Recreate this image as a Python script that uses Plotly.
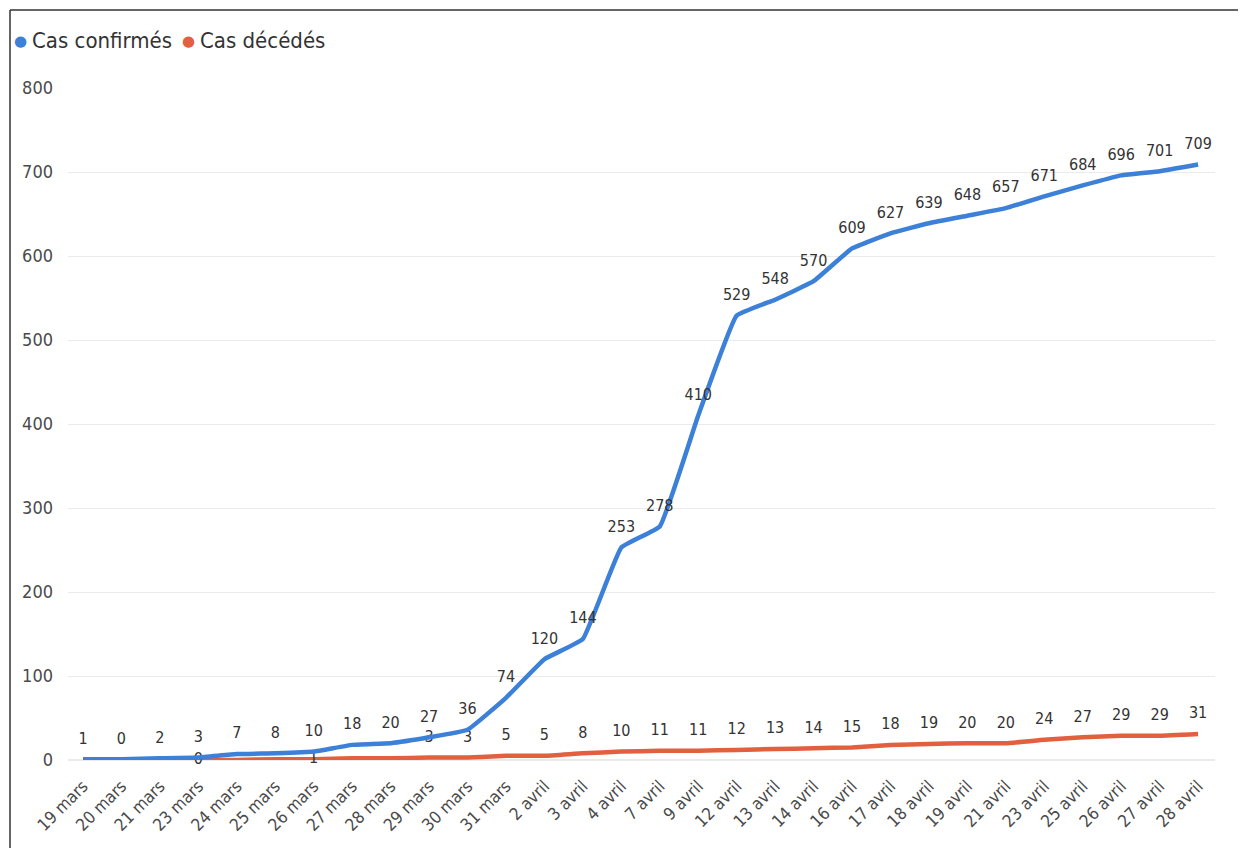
import plotly.graph_objects as go

dates = ["19 mars", "20 mars", "21 mars", "23 mars", "24 mars", "25 mars", "26 mars",
         "27 mars", "28 mars", "29 mars", "30 mars", "31 mars",
         "2 avril", "3 avril", "4 avril", "7 avril", "9 avril", "12 avril", "13 avril",
         "14 avril", "16 avril", "17 avril", "18 avril", "19 avril", "21 avril",
         "23 avril", "25 avril", "26 avril", "27 avril", "28 avril"]

confirmes = [1, 1, 2, 3, 7, 8, 10, 18, 20, 27, 36, 74, 120, 144, 253, 278, 410,
             529, 548, 570, 609, 627, 639, 648, 657, 671, 684, 696, 701, 709]

deces = [0, 0, 0, 0, 0, 1, 1, 2, 2, 3, 3, 5, 5, 8, 10, 11, 11, 12, 13, 14, 15,
         18, 19, 20, 20, 24, 27, 29, 29, 31]

series_names = ["Cas confirmés", "Cas décédés"]

# labels hidden where the source chart suppressed overlapping labels
conf_shown = [True, False] + [True] * 28
dec_shown = [False, True, False, True, False, False, True, False, False] + [True] * 21
dec_pos = ["top center"] * 30
dec_pos[3] = "middle center"
dec_pos[6] = "middle center"

blue = "#3C80D8"
red = "#E2603F"
font_family = "DejaVu Sans Condensed, DejaVu Sans, Liberation Sans Narrow, sans-serif"

conf_text = [str(v) if s else "" for v, s in zip(confirmes, conf_shown)]
dec_text = [str(v) if s else "" for v, s in zip(deces, dec_shown)]

# invisible markers set how far the labels sit above the line
ghost = dict(size=17, color="rgba(0,0,0,0)")

fig = go.Figure()
fig.add_trace(go.Scatter(
    x=dates, y=deces, mode="lines+markers+text", text=dec_text, textposition=dec_pos,
    line=dict(color=red, width=4.5, shape="spline", smoothing=0.3), marker=ghost,
    textfont=dict(family=font_family, size=16, color="#333333"),
    cliponaxis=False, showlegend=False, name=series_names[1]))
fig.add_trace(go.Scatter(
    x=dates, y=confirmes, mode="lines+markers+text", text=conf_text,
    textposition="top center", marker=ghost,
    line=dict(color=blue, width=4.5, shape="spline", smoothing=0.3),
    textfont=dict(family=font_family, size=16, color="#333333"),
    cliponaxis=False, showlegend=False, name=series_names[0]))

# page body has an 8px margin: lay out in target pixels shifted by OFF
OFF = 8
W, H = 1246 - OFF, 848 - OFF
L, R, T, B = 68 - OFF, 1246 - 1215, 88 - OFF, 848 - 760
pw, ph = W - L - R, H - T - B


def px(xp):
    return (xp - OFF - L) / pw


def py(yp):
    return (H - B - (yp - OFF)) / ph


fig.add_shape(type="line", xref="paper", yref="paper", x0=px(10), x1=px(1260),
              y0=py(10), y1=py(10), line=dict(color="#333333", width=1.5))
fig.add_shape(type="line", xref="paper", yref="paper", x0=px(10), x1=px(10),
              y0=py(10), y1=py(860), line=dict(color="#333333", width=1.5))

# legend drawn as dots + labels
legend_items = [(series_names[0], blue, 20, 30), (series_names[1], red, 188, 198)]
for name, col, dot_x, txt_x in legend_items:
    fig.add_annotation(x=px(dot_x), y=py(41), xref="paper", yref="paper",
                       text="●", showarrow=False, xanchor="center", yanchor="middle",
                       font=dict(size=15, color=col, family="DejaVu Sans"))
    fig.add_annotation(x=px(txt_x), y=py(40), xref="paper", yref="paper",
                       text=name, showarrow=False, xanchor="left", yanchor="middle",
                       font=dict(size=22, color="#333333", family=font_family))

fig.update_layout(
    width=W, height=H,
    margin=dict(l=L, r=R, t=T, b=B),
    paper_bgcolor="white", plot_bgcolor="white",
    font=dict(family=font_family, color="#555555"),
    showlegend=False,
    hovermode=False,
    xaxis=dict(type="category", range=[-0.39, 29.44], tickangle=-45,
               tickfont=dict(size=17, color="#4A4A4A"), showgrid=False,
               showline=False, ticks="", ticklabelstandoff=12),
    yaxis=dict(range=[0, 800], dtick=100, tickfont=dict(size=18, color="#4A4A4A"),
               gridcolor="#EAEAEA", gridwidth=1, zeroline=True, zerolinecolor="#EAEAEA",
               showline=False, ticks="", ticklabelstandoff=14),
)

fig.write_html("out.html")
